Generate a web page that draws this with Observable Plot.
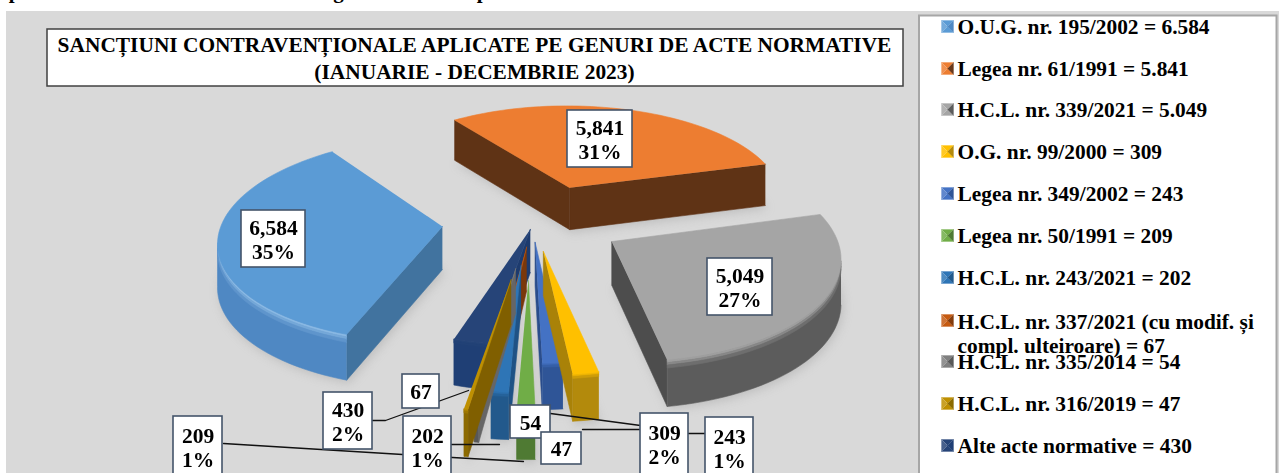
<!DOCTYPE html>
<html>
<head>
<meta charset="utf-8">
<style>html,body{margin:0;padding:0;background:#fff;overflow:hidden}svg{display:block}</style>
<script src="https://cdn.jsdelivr.net/npm/d3@7"></script>
<script src="https://cdn.jsdelivr.net/npm/@observablehq/plot@0.6"></script>
</head>
<body>
<div id="chart"></div>
<script>
// ---- data ----
const titleLines = ["SANCȚIUNI CONTRAVENȚIONALE APLICATE PE GENURI DE ACTE NORMATIVE", "(IANUARIE - DECEMBRIE 2023)"];
const actNames = ["O.U.G. nr. 195/2002","Legea nr. 61/1991","H.C.L. nr. 339/2021","O.G. nr. 99/2000","Legea nr. 349/2002","Legea nr. 50/1991","H.C.L. nr. 243/2021","H.C.L. nr. 337/2021 (cu modif. și\ncompl. ulteiroare)","H.C.L. nr. 335/2014","H.C.L. nr. 316/2019","Alte acte normative"];
const sanctions = [6584,5841,5049,309,243,209,202,67,54,47,430];
const showPercent = [true,true,true,true,true,true,true,false,false,false,true];

// ---- styling and layout ----
const topColors  = ["#5b9bd5","#ed7d31","#a5a5a5","#ffc000","#4472c4","#70ad47","#2e75b6","#c55a11","#7f7f7f","#bf9000","#264478"];
const rimColors  = ["#4f88c3","#69381a","#5c5c5c","#b38a0c","#2f5597","#4f7a33","#22598c","#843c0c","#585858","#8c6a00","#1f3f75"];
const sideColors = ["#41739f","#5f3315","#4d4d4d","#a98208","#2a4d8c","#476f2e","#1f5285","#7a380b","#666666","#805f00","#1d3b6e"];
const explode    = [0.42,0.42,0.42,0.33,0.24,0.55,0.42,0.25,0.45,0.55,0.08];
const nudgeX     = [0,6,-3,-3,-3,-5,-6,-1,-4,-3,0];
const nudgeY     = [-1,4,-3,-4,-4,0,0,0,0,0,0];
const camera = {cx:534, cy:221, A:220, B:100, p:0.12, H:43, rotation:0, thinRotation:-2};
const boxes = [
  [241,305,210,267],[567,632,110,167],[707,772,258,315],[640,688,413,476],[705,753,417,476],
  [173,222,416,476],[403,451,416,476],[402,439,374,408],[510,550,405,438],[541,581,432,464],[323,372,392,449]
];
const legendY = [26,68,109,151,193,235,277,332.5,361,403,445];
const leaderLines = [
  [[223,443],[402,454],[452,457],[523,461]],
  [[372,420],[385,420],[468,390]],
  [[451,444],[499,444]],
  [[550,413],[640,425]],
  [[582,429],[640,429]],
  [[688,433],[705,433]]
];

// ---- pie geometry from the values ----
const total = d3.sum(sanctions);
const rad = Math.PI/180;
const polys = []; const shadow = [];
let pid = 0;
function poly(pts,color,target=polys){ const id = pid++; pts.forEach(p=>target.push({x:p[0],y:p[1],id,color})); }
function wall(run,color,d0=0,d1=1){
  const pts = run.map(p=>[p.x,p.y+Math.min(d0,p.d*d1)]);
  const back = run.slice().reverse().map(p=>[p.x,p.y+Math.min(d1,p.d)]);
  poly([...pts,...back],color);
}
let cum = 0;
const slices = sanctions.map((v,i)=>{
  const rot = 109.6 + (i>2 ? camera.thinRotation : camera.rotation);
  const a0 = rot + cum/total*360;
  cum += v;
  return {i,a0,a1:rot + cum/total*360};
});
const smallByExplode = slices.slice(3).sort((a,b)=>explode[a.i]-explode[b.i]);
[...slices.slice(0,3), ...smallByExplode].forEach(({i,a0,a1})=>{
  const project = (u,v)=>{ const w = 1 - camera.p*v; return {x:camera.cx + nudgeX[i] + camera.A*u/w, y:camera.cy + nudgeY[i] + camera.B*v/w, d:camera.H/Math.sqrt(w)}; };
  const m = (a0+a1)/2*rad, e = explode[i];
  const tu = e*Math.cos(m), tv = e*Math.sin(m);
  const tip = project(tu,tv);
  const n = Math.max(2,Math.ceil((a1-a0)/2));
  const rim = d3.range(n+1).map(k=>{ const t=(a0+(a1-a0)*k/n)*rad; return project(tu+Math.cos(t),tv+Math.sin(t)); });
  poly([tip,...rim].map(p=>[p.x+2,p.y+p.d+3]),"#9a9a9a",shadow);
  const first = rim[0], last = rim[n];
  if (first.x < tip.x) wall([tip,first],sideColors[i],0,200);
  if (tip.x < last.x) wall([last,tip],sideColors[i],0,200);
  const run = rim.filter((p,k)=> (k<n && rim[k+1].x<p.x) || (k>0 && p.x<rim[k-1].x));
  if (run.length>1){
    wall(run,rimColors[i],0,200);
    const mix = d3.interpolateRgb(i===0 ? "#8fbde6" : topColors[i], rimColors[i]);
    const steps = i<3 ? [[0,2.5,0.1],[2.5,5,0.4],[5,8,0.75]] : [[0,2,0.25],[2,4,0.65]];
    steps.forEach(([a,b,t])=>wall(run,mix(t),a,b));
  }
  poly([tip,...rim].map(p=>[p.x,p.y]),topColors[i]);
});

// ---- labels, legend ----
const fmtComma = d3.format(",");
const labelRows = boxes.map((b,i)=>({
  x1:b[0],x2:b[1],y1:b[2],y2:b[3],
  tx:(b[0]+b[1])/2, ty: showPercent[i] ? b[2]+ (i<3||i===10 ? 29 : 31) : (b[2]+b[3])/2,
  text: fmtComma(sanctions[i]) + (showPercent[i] ? "\n"+Math.round(sanctions[i]/total*100)+"%" : "")
}));
const legendRows = actNames.map((n,i)=>({
  y:legendY[i],
  text:n+" = "+fmtComma(sanctions[i]).replace(",",".")
}));
const markerPolys = []; let mid = 0;
legendRows.forEach((r,i)=>{
  const y0 = i===7 ? 320 : r.y, x0 = 947, h=6, c=topColors[i], cDark=rimColors[i];
  const tri=(pts,col)=>{const id=mid++; pts.forEach(p=>markerPolys.push({x:p[0],y:p[1],id,color:col}));};
  tri([[x0-h,y0-h],[x0+h,y0-h],[x0,y0]],c);
  tri([[x0-h,y0+h],[x0+h,y0+h],[x0,y0]],c);
  tri([[x0-h,y0-h],[x0-h,y0+h],[x0,y0]],d3.interpolateRgb(c,"#fff")(0.15));
  tri([[x0+h,y0-h],[x0+h,y0+h],[x0,y0]],cDark);
});

const serif = "'Liberation Serif','Times New Roman',serif";
const polygonMark = (rows,extra={}) => Plot.line(rows,{x:"x",y:"y",z:"id",fill:"color",stroke:"color",strokeWidth:0.6,curve:"linear",...extra});

const chart = Plot.plot({
  width:1279, height:473, margin:0,
  x:{domain:[0,1279],range:[0,1279],axis:null},
  y:{domain:[0,473],range:[0,473],axis:null},
  color:{type:"identity"},
  style:{background:"#fff",fontFamily:serif},
  marks:[
    Plot.rect([{}],{x1:()=>6,x2:()=>1279,y1:()=>11,y2:()=>473,fill:"#d9d9d9"}),
    Plot.text([{x:14,t:"p"},{x:338,t:"g"},{x:482,t:"p"}],{x:"x",y:()=>-9,text:"t",fontSize:21,fontWeight:"bold",fill:"#000"}),
    polygonMark(shadow,{fill:"#8f8f8f",stroke:"none",imageFilter:"blur(5px)",opacity:0.35}),
    polygonMark(polys),
    ...leaderLines.map(l=>Plot.line(l,{x:d=>d[0],y:d=>d[1],stroke:"#111",strokeWidth:1.3})),
    Plot.rect([{}],{x1:()=>47,x2:()=>903,y1:()=>29,y2:()=>86,fill:"#fff",stroke:"#404040",strokeWidth:1.5}),
    Plot.text(titleLines,{x:()=>474,y:(d,i)=>45+i*27,text:d=>d,fontSize:21.4,fontWeight:"bold",fill:"#000"}),
    Plot.rect(labelRows,{x1:"x1",x2:"x2",y1:"y1",y2:"y2",fill:"#fff",stroke:"#44546a",strokeWidth:1.6}),
    Plot.text(labelRows,{x:"tx",y:"ty",text:"text",fontSize:21.5,fontWeight:"bold",fill:"#000",lineHeight:1.13}),
    Plot.rect([{}],{x1:()=>919,x2:()=>1276.5,y1:()=>15.5,y2:()=>475,fill:"#fff",stroke:"#a6a6a6",strokeWidth:2}),
    polygonMark(markerPolys,{strokeWidth:0.3}),
    Plot.text(legendRows,{x:()=>957,y:"y",text:"text",textAnchor:"start",fontSize:21.4,fontWeight:"bold",fill:"#000",lineHeight:1.16})
  ]
});
document.getElementById("chart").appendChild(chart);
</script>
</body>
</html>
